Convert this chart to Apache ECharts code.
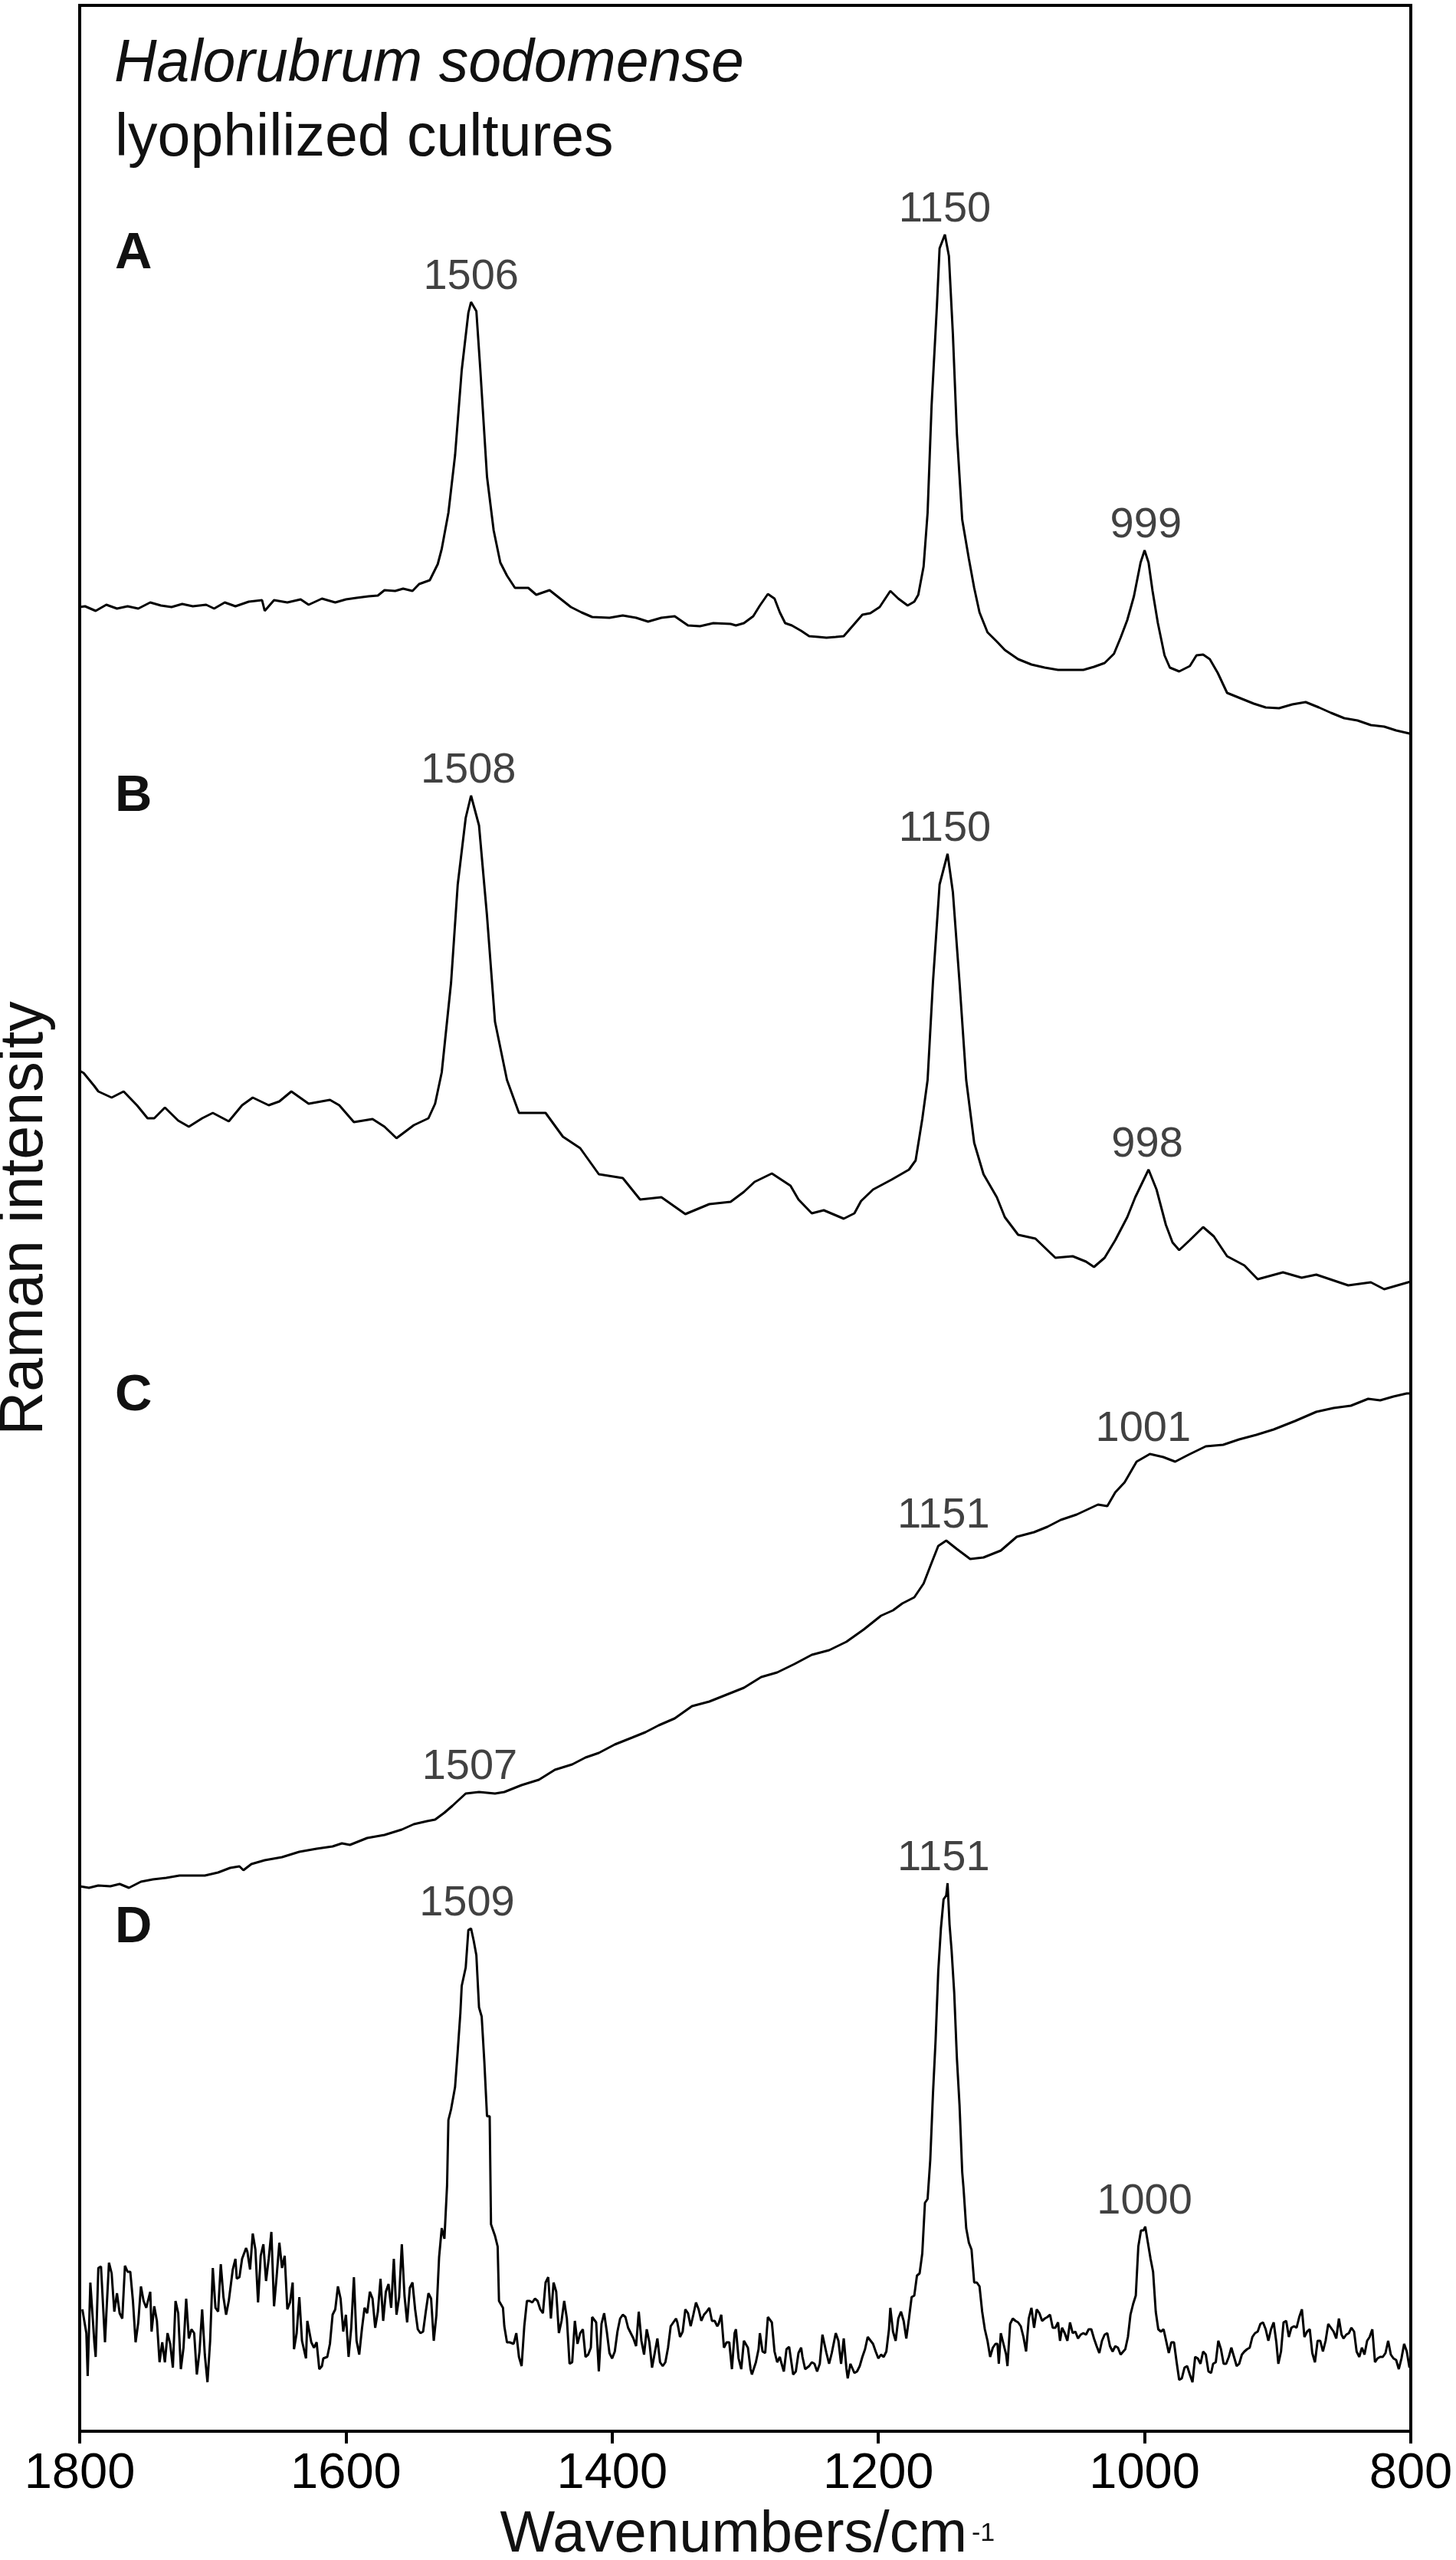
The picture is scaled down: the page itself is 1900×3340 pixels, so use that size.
<!DOCTYPE html>
<html>
<head>
<meta charset="utf-8">
<title>Halorubrum sodomense Raman spectra</title>
<script src="https://cdn.jsdelivr.net/npm/echarts@6/dist/echarts.min.js"></script>
<style>
    html, body { margin: 0; padding: 0; background: #fff; }
    #chart { width: 1900px; height: 3340px; }
</style>
</head>
<body>
<div id="chart"></div>
<script>
// spectra as [wavenumber cm-1, intensity (arbitrary units, stacked)]
var spectrumA = [
    [1800, 2380], [1796, 2381], [1788, 2375], [1780, 2383], [1772, 2378], [1764, 2381], [1756, 2378], [1747, 2386],
    [1739, 2382], [1731, 2380], [1723, 2384], [1715, 2381], [1705, 2383], [1699, 2378], [1691, 2386], [1683, 2381],
    [1673, 2387], [1663, 2389], [1661, 2375], [1654, 2389], [1644, 2386], [1634, 2390], [1628, 2383], [1618, 2391],
    [1608, 2386], [1600, 2390], [1592, 2392], [1583, 2394], [1576, 2395], [1571, 2402], [1563, 2401], [1557, 2404],
    [1550, 2401], [1545, 2410], [1537, 2415], [1531, 2436], [1528, 2456], [1523, 2503], [1518, 2578], [1513, 2689],
    [1508, 2764], [1506, 2778], [1502, 2766], [1499, 2689], [1494, 2550], [1489, 2480], [1484, 2438], [1479, 2421],
    [1473, 2405], [1463, 2405], [1457, 2396], [1447, 2402], [1439, 2391], [1431, 2380], [1423, 2373], [1415, 2367],
    [1402, 2366], [1392, 2369], [1382, 2366], [1373, 2361], [1363, 2366], [1353, 2368], [1343, 2356], [1334, 2355],
    [1324, 2359], [1311, 2358], [1307, 2356], [1301, 2359], [1294, 2368], [1289, 2382], [1283, 2397], [1278, 2391],
    [1274, 2373], [1270, 2359], [1265, 2356], [1258, 2349], [1252, 2342], [1245, 2341], [1239, 2340], [1232, 2341],
    [1226, 2342], [1222, 2350], [1212, 2370], [1206, 2372], [1199, 2380], [1191, 2401], [1185, 2391], [1178, 2382],
    [1173, 2387], [1170, 2396], [1166, 2433], [1163, 2503], [1160, 2643], [1156, 2773], [1154, 2848], [1150, 2866],
    [1147, 2838], [1144, 2736], [1141, 2606], [1137, 2494], [1132, 2443], [1128, 2405], [1124, 2373], [1118, 2347],
    [1111, 2335], [1105, 2324], [1095, 2312], [1085, 2305], [1075, 2301], [1065, 2298], [1056, 2298], [1046, 2298],
    [1038, 2302], [1030, 2307], [1023, 2319], [1018, 2340], [1013, 2363], [1008, 2394], [1003, 2438], [1000, 2454],
    [997, 2438], [994, 2401], [990, 2359], [985, 2317], [981, 2301], [974, 2296], [966, 2303], [961, 2317],
    [956, 2318], [951, 2312], [945, 2294], [938, 2268], [928, 2261], [918, 2254], [909, 2249], [899, 2248],
    [889, 2253], [879, 2256], [869, 2249], [860, 2242], [850, 2235], [840, 2232], [830, 2226], [820, 2224],
    [811, 2219], [801, 2215], [800, 2215]
];

var spectrumB = [
    [1800, 1775], [1797, 1772], [1789, 1755], [1786, 1748], [1776, 1740], [1767, 1748], [1757, 1730], [1749, 1713],
    [1744, 1713], [1736, 1727], [1726, 1710], [1718, 1702], [1708, 1713], [1700, 1720], [1688, 1709], [1678, 1730],
    [1670, 1740], [1658, 1730], [1650, 1735], [1641, 1748], [1628, 1732], [1612, 1737], [1605, 1730], [1594, 1708],
    [1580, 1712], [1571, 1702], [1562, 1687], [1549, 1704], [1538, 1713], [1533, 1732], [1528, 1773], [1521, 1890],
    [1516, 2018], [1510, 2105], [1506, 2134], [1500, 2095], [1494, 1977], [1488, 1839], [1479, 1763], [1470, 1720],
    [1463, 1720], [1450, 1720], [1437, 1689], [1424, 1674], [1410, 1640], [1392, 1635], [1379, 1607], [1363, 1610],
    [1345, 1588], [1327, 1601], [1311, 1604], [1301, 1617], [1293, 1630], [1280, 1641], [1266, 1625], [1260, 1607],
    [1250, 1589], [1241, 1593], [1226, 1582], [1218, 1589], [1213, 1605], [1204, 1620], [1190, 1633], [1177, 1646],
    [1172, 1658], [1167, 1712], [1163, 1763], [1159, 1890], [1154, 2018], [1148, 2058], [1144, 2008], [1139, 1890],
    [1134, 1763], [1128, 1681], [1121, 1640], [1111, 1610], [1105, 1584], [1095, 1561], [1082, 1556], [1067, 1531],
    [1054, 1533], [1044, 1526], [1038, 1519], [1030, 1531], [1022, 1554], [1013, 1584], [1007, 1610], [997, 1646],
    [991, 1620], [984, 1574], [979, 1551], [974, 1541], [966, 1554], [956, 1571], [948, 1559], [938, 1533],
    [925, 1521], [915, 1503], [896, 1512], [882, 1505], [871, 1509], [847, 1495], [830, 1499], [820, 1490],
    [800, 1500]
];

var spectrumC = [
    [1800, 711], [1799, 711], [1793, 709], [1786, 712], [1777, 711], [1770, 714], [1763, 709], [1754, 717],
    [1745, 720], [1735, 722], [1725, 725], [1716, 725], [1706, 725], [1696, 729], [1687, 735], [1680, 737],
    [1677, 732], [1671, 740], [1661, 745], [1648, 749], [1635, 756], [1622, 760], [1610, 763], [1603, 767],
    [1597, 765], [1584, 774], [1571, 778], [1558, 785], [1549, 792], [1539, 796], [1533, 798], [1526, 807],
    [1520, 816], [1510, 832], [1500, 834], [1488, 832], [1481, 834], [1468, 843], [1455, 850], [1443, 863],
    [1430, 870], [1420, 879], [1410, 885], [1398, 896], [1385, 905], [1375, 912], [1365, 921], [1353, 930],
    [1340, 946], [1327, 952], [1314, 961], [1301, 970], [1288, 984], [1276, 990], [1263, 1001], [1250, 1013],
    [1237, 1019], [1224, 1030], [1211, 1046], [1198, 1064], [1189, 1071], [1182, 1080], [1173, 1088], [1166, 1106],
    [1160, 1133], [1155, 1155], [1149, 1162], [1141, 1151], [1131, 1138], [1121, 1140], [1108, 1149], [1096, 1167],
    [1083, 1173], [1073, 1180], [1063, 1189], [1051, 1196], [1035, 1209], [1028, 1207], [1022, 1225], [1015, 1238],
    [1006, 1265], [996, 1275], [986, 1271], [977, 1265], [967, 1274], [954, 1285], [941, 1287], [929, 1294],
    [916, 1300], [903, 1307], [887, 1318], [871, 1330], [858, 1335], [845, 1338], [832, 1347], [823, 1345],
    [813, 1350], [803, 1354], [800, 1354]
];

var spectrumD = [
    [1798, 159], [1795, 128], [1794, 72], [1792, 194], [1789, 116], [1788, 97], [1786, 213], [1784, 215],
    [1781, 116], [1780, 152], [1778, 220], [1776, 206], [1774, 156], [1772, 180], [1770, 154], [1768, 147],
    [1766, 216], [1764, 208], [1762, 208], [1760, 170], [1758, 116], [1756, 142], [1754, 189], [1752, 170],
    [1750, 161], [1747, 182], [1746, 130], [1744, 163], [1742, 144], [1740, 90], [1738, 116], [1736, 90],
    [1734, 128], [1732, 114], [1730, 83], [1728, 170], [1726, 154], [1724, 81], [1722, 109], [1720, 173],
    [1718, 121], [1716, 133], [1714, 128], [1712, 74], [1710, 104], [1708, 159], [1706, 100], [1704, 64],
    [1702, 118], [1700, 213], [1698, 161], [1696, 156], [1694, 218], [1692, 175], [1690, 152], [1688, 170],
    [1685, 211], [1683, 225], [1682, 199], [1680, 201], [1678, 225], [1675, 239], [1674, 234], [1672, 211],
    [1670, 258], [1668, 237], [1666, 168], [1664, 229], [1662, 244], [1660, 196], [1658, 225], [1656, 260],
    [1654, 163], [1652, 203], [1650, 246], [1648, 213], [1646, 229], [1644, 159], [1642, 168], [1640, 194],
    [1639, 107], [1637, 128], [1635, 175], [1633, 118], [1630, 95], [1629, 144], [1626, 116], [1624, 109],
    [1622, 116], [1620, 81], [1618, 85], [1617, 95], [1614, 97], [1612, 114], [1610, 152], [1608, 159],
    [1606, 189], [1604, 173], [1602, 130], [1600, 152], [1598, 97], [1596, 135], [1594, 201], [1592, 118],
    [1590, 100], [1588, 133], [1586, 161], [1584, 154], [1582, 182], [1580, 173], [1578, 135], [1576, 156],
    [1574, 199], [1572, 144], [1570, 182], [1568, 192], [1566, 161], [1564, 225], [1562, 152], [1560, 175],
    [1558, 244], [1556, 177], [1554, 142], [1552, 187], [1550, 194], [1548, 159], [1546, 133], [1544, 128],
    [1542, 130], [1540, 156], [1538, 180], [1536, 173], [1534, 118], [1532, 152], [1530, 227], [1528, 265],
    [1526, 251], [1524, 321], [1523, 406], [1521, 420], [1518, 449], [1516, 496], [1514, 546], [1513, 581],
    [1510, 605], [1508, 654], [1506, 656], [1504, 640], [1502, 621], [1500, 553], [1498, 541], [1496, 482],
    [1494, 411], [1492, 411], [1491, 270], [1488, 255], [1486, 241], [1485, 170], [1482, 161], [1481, 137],
    [1479, 116], [1477, 116], [1474, 114], [1472, 128], [1470, 97], [1468, 85], [1466, 137], [1464, 170],
    [1462, 170], [1460, 168], [1458, 173], [1456, 170], [1454, 159], [1452, 154], [1450, 194], [1448, 201],
    [1446, 147], [1444, 194], [1442, 182], [1440, 128], [1438, 144], [1436, 170], [1434, 147], [1432, 88],
    [1430, 90], [1428, 144], [1426, 114], [1424, 128], [1422, 133], [1420, 97], [1418, 100], [1416, 109],
    [1415, 149], [1412, 142], [1410, 78], [1408, 140], [1406, 154], [1404, 130], [1402, 102], [1400, 95],
    [1398, 104], [1396, 130], [1394, 147], [1392, 152], [1390, 149], [1388, 135], [1386, 128], [1384, 121],
    [1382, 111], [1380, 156], [1378, 118], [1376, 100], [1374, 133], [1372, 116], [1370, 83], [1368, 102],
    [1366, 121], [1364, 90], [1362, 85], [1360, 90], [1358, 109], [1356, 137], [1354, 142], [1352, 147],
    [1351, 142], [1349, 123], [1347, 130], [1345, 159], [1343, 154], [1341, 137], [1339, 152], [1337, 168],
    [1335, 159], [1333, 144], [1331, 152], [1329, 156], [1327, 161], [1325, 144], [1323, 144], [1321, 137],
    [1320, 140], [1318, 152], [1316, 109], [1314, 116], [1312, 116], [1310, 81], [1308, 128], [1307, 133],
    [1305, 95], [1303, 81], [1301, 118], [1298, 109], [1296, 81], [1295, 74], [1292, 90], [1290, 107],
    [1289, 128], [1287, 104], [1285, 102], [1283, 149], [1280, 142], [1278, 104], [1276, 90], [1274, 97],
    [1273, 90], [1271, 78], [1269, 107], [1267, 110], [1264, 74], [1262, 78], [1260, 102], [1258, 109],
    [1257, 97], [1255, 81], [1252, 85], [1250, 90], [1248, 88], [1246, 78], [1244, 88], [1242, 126],
    [1241, 128], [1239, 102], [1237, 88], [1235, 102], [1232, 128], [1230, 118], [1228, 88], [1226, 121],
    [1224, 82], [1223, 69], [1221, 88], [1218, 76], [1216, 78], [1214, 85], [1212, 97], [1210, 107],
    [1208, 123], [1207, 121], [1204, 114], [1202, 104], [1200, 95], [1198, 100], [1196, 97], [1194, 104],
    [1192, 133], [1191, 161], [1189, 130], [1187, 118], [1185, 147], [1183, 156], [1181, 144], [1179, 121],
    [1177, 147], [1175, 175], [1173, 177], [1171, 203], [1169, 206], [1167, 232], [1165, 298], [1163, 303],
    [1161, 354], [1159, 439], [1157, 510], [1155, 600], [1153, 656], [1151, 694], [1149, 699], [1148, 715],
    [1146.5, 661], [1145, 628], [1143, 572], [1141, 487], [1139, 425], [1137, 338], [1136, 317], [1134, 265],
    [1132, 246], [1130, 237], [1128, 194], [1126, 194], [1124, 189], [1122, 156], [1120, 133], [1118, 118],
    [1116, 97], [1114, 109], [1112, 114], [1110.5, 114], [1109.5, 88], [1108, 128], [1106, 114], [1104, 100],
    [1103, 85], [1101, 140], [1099, 147], [1097, 144], [1095, 142], [1093, 137], [1091, 123], [1089, 104],
    [1087, 147], [1085, 161], [1083, 135], [1081, 159], [1079, 154], [1077, 144], [1075, 147], [1073, 149],
    [1071, 152], [1069, 135], [1067, 135], [1065, 142], [1063.5, 118], [1062, 135], [1060, 128], [1058, 118],
    [1056, 142], [1054, 128], [1052, 130], [1050, 121], [1048, 126], [1046, 128], [1044, 126], [1042, 133],
    [1040, 133], [1038, 121], [1036, 111], [1034, 102], [1032, 118], [1030, 126], [1028, 128], [1026, 111],
    [1024, 104], [1022, 111], [1020, 109], [1018, 100], [1016, 104], [1014.5, 107], [1012.5, 123], [1010.6, 152],
    [1008.6, 166], [1006.6, 177], [1004.7, 241], [1002.7, 262], [1000.8, 262], [999.5, 267], [997.5, 246], [995.5, 225],
    [993.6, 208], [991.6, 156], [989.7, 133], [987.7, 130], [985.7, 133], [983.8, 118], [981.8, 102], [979.9, 116],
    [977.9, 116], [975.9, 90], [974, 67], [972, 69], [970, 83], [968, 85], [966, 74], [964, 64],
    [962, 97], [960, 95], [958, 88], [956, 104], [954, 100], [952, 78], [950, 76], [948.5, 88],
    [946.5, 90], [944.6, 118], [942.6, 107], [940.6, 88], [938.7, 88], [936.7, 97], [934.8, 109], [932.8, 97],
    [930.8, 85], [928.9, 88], [926.9, 100], [925, 104], [923, 107], [921, 109], [919, 123], [917, 128],
    [915, 130], [913, 140], [911, 142], [909, 133], [907, 118], [905, 133], [903, 142], [901, 116],
    [899.5, 88], [897.5, 104], [895.6, 142], [893.6, 144], [891.6, 123], [889.7, 135], [887.7, 137], [885.8, 135],
    [883.8, 149], [881.8, 159], [879.9, 123], [877.9, 130], [875.9, 133], [874, 102], [872, 90], [870, 118],
    [868, 118], [866, 104], [864, 118], [862, 140], [860, 135], [858, 130], [856, 121], [854, 147],
    [852, 126], [850.5, 121], [848.5, 126], [846.5, 128], [844.6, 135], [842.6, 130], [840.7, 104], [838.7, 97],
    [836.7, 109], [834.8, 100], [832.8, 118], [830.9, 123], [828.9, 133], [826.9, 90], [825, 95], [823, 97],
    [821, 97], [819, 102], [817, 118], [815, 100], [813, 95], [811, 93], [809, 81], [807, 95],
    [805, 114], [803, 104], [801, 83]
];

// peak annotations: [label wavenumber, intensity of the band top]
var peaksA = [[1506, 2778], [1150, 2866], [999, 2454]];
var peaksB = [[1508, 2134], [1150, 2058], [998, 1646]];
var peaksC = [[1507, 834], [1151, 1162], [1001, 1275]];
var peaksD = [[1509, 656], [1151, 715], [1000, 267]];

var panelLetters = ['A', 'B', 'C', 'D'];

var FONT = '"Liberation Sans", Arial, Helvetica, sans-serif';

function spectrumSeries(data) {
    return {
        type: 'line',
        data: data,
        showSymbol: false,
        symbol: 'none',
        smooth: false,
        lineStyle: { color: '#000', width: 3 },
        silent: true,
        z: 3
    };
}

function peakSeries(peaks) {
    return {
        type: 'scatter',
        data: peaks,
        symbolSize: 0,
        silent: true,
        label: {
            show: true,
            position: 'top',
            distance: 4,
            fontSize: 56,
            lineHeight: 56,
            fontFamily: FONT,
            color: '#111',
            formatter: function (p) { return p.value[0]; }
        },
        z: 4
    };
}

function pageText(x, y, text, font, align) {
    return {
        type: 'text', x: x, y: y,
        style: {
            text: text, font: font, fill: '#111',
            textAlign: align || 'left', textVerticalAlign: 'middle',
            align: align || 'left', verticalAlign: 'middle'
        }
    };
}

// title, panel letters and the x axis title (cm with a raised -1)
var letterY = [332, 1040, 1822, 2516];
var graphics = [
    pageText(149, 85, 'Halorubrum sodomense', 'italic 77px ' + FONT),
    pageText(150, 182, 'lyophilized cultures', '77px ' + FONT),
    pageText(1262, 3308, 'Wavenumbers/cm', '76px ' + FONT, 'right'),
    pageText(1268, 3306, '-1', '34px ' + FONT)
];
for (var i = 0; i < panelLetters.length; i++) {
    graphics.push(pageText(150, letterY[i], panelLetters[i], 'bold 67px ' + FONT));
}

var option = {
    animation: false,
    backgroundColor: '#fff',
    textStyle: { fontFamily: FONT },
    grid: {
        left: 104, right: 59, top: 7, bottom: 168,
        containLabel: false,
        outerBoundsMode: 'none',
        show: true, borderColor: '#000', borderWidth: 4, backgroundColor: 'transparent'
    },
    xAxis: {
        type: 'value',
        inverse: true,
        min: 800,
        max: 1800,
        interval: 200,
        axisLine: { show: true, lineStyle: { color: '#000', width: 4 } },
        axisTick: { show: true, inside: false, length: 16, lineStyle: { color: '#000', width: 4 } },
        axisLabel: {
            fontSize: 65, lineHeight: 65, color: '#000', margin: 24, fontFamily: FONT,
            formatter: function (v) { return String(v); }
        },
        splitLine: { show: false }
    },
    yAxis: {
        type: 'value',
        min: 0,
        max: 3165,
        axisLine: { show: false },
        axisTick: { show: false },
        axisLabel: { show: false },
        splitLine: { show: false },
        name: 'Raman intensity',
        nameLocation: 'middle',
        nameGap: 31,
        nameRotate: 90,
        nameTextStyle: { fontSize: 79, lineHeight: 79, color: '#111', fontFamily: FONT }
    },
    graphic: graphics,
    series: [
        spectrumSeries(spectrumA),
        spectrumSeries(spectrumB),
        spectrumSeries(spectrumC),
        spectrumSeries(spectrumD),
        peakSeries(peaksA),
        peakSeries(peaksB),
        peakSeries(peaksC),
        peakSeries(peaksD)
    ]
};

var myChart = echarts.init(document.getElementById('chart'), null, { renderer: 'canvas' });
myChart.setOption(option);
</script>
</body>
</html>
